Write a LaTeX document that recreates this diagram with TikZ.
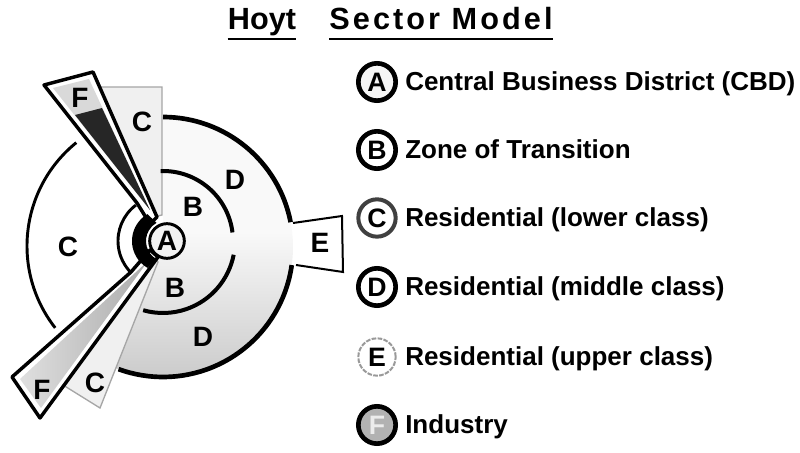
\documentclass[tikz,border=0pt]{standalone}
\usepackage{fontspec}
\setmainfont{Liberation Sans}
\begin{document}
\begin{tikzpicture}[x=0.75pt,y=0.75pt,
  zone/.style={font=\bfseries\fontsize{21}{21}\selectfont},
  key/.style={circle,draw,line width=3.5pt,minimum size=28pt,inner sep=0pt,fill=white,
    font=\bfseries\fontsize{20}{20}\selectfont},
  keytext/.style={anchor=base west,inner sep=0pt,font=\bfseries\fontsize{19.5}{22}\selectfont},
  title/.style={anchor=base,inner sep=0pt,font=\bfseries\fontsize{23}{26}\selectfont},
  wedge/.style={draw=gray!70,line width=1pt,fill=gray!12},
  mill/.style={draw,line width=2.6pt,line join=round,fill=white}]
\useasboundingbox (0,0) rectangle (800,453);

\coordinate (O) at (163,212);
\coordinate (Dc) at (163,206);
\coordinate (Cc) at (160,207);
\coordinate (O2) at (167,212);

\begin{scope}
\clip (Dc) -- ([shift={(90:130)}]Dc) arc[start angle=90,end angle=-112,radius=130] -- cycle;
\fill[gray!5] (100,220) rectangle (300,340);
\shade[top color=gray!5,bottom color=gray!42] (100,70) rectangle (300,220);
\end{scope}
\draw[line width=3.5pt] ([shift={(90:130)}]Dc) arc[start angle=90,end angle=11,radius=130];
\draw[line width=3.5pt] ([shift={(-8:130)}]Dc) arc[start angle=-8,end angle=-110,radius=130];

\draw[line width=1.5pt,fill=white] (293,230) -- (342,237) -- (343,181) -- (296,188);

\draw[line width=2.2pt] ([shift={(129:133)}]Cc) arc[start angle=129,end angle=218,radius=133];

\draw[wedge] (98,366) -- (162,366) -- (162,238) -- (153,236) -- cycle;
\draw[wedge] (63,68) -- (100,45) -- (158,191) -- (152,197) -- cycle;

\draw[mill] (44,368) -- (93,381) -- (157,236) -- (150,229) -- (137,250) -- cycle;
\fill[gray!30] (53,365) -- (89,374) -- (150,243) -- cycle;
\fill[black!85] (75,338) -- (102,345) -- (150,243) -- cycle;

\draw[mill] (12,76) -- (40,35) -- (158,196) -- (150,203) -- (131,181) -- cycle;
\shade[left color=gray!25,right color=gray!65] (20,74) -- (41,45) -- (148,192) -- cycle;

\draw[line width=2.2pt] ([shift={(127:45)}]O) arc[start angle=127,end angle=225,radius=45];
\draw[line width=3pt] ([shift={(92:70)}]O) arc[start angle=92,end angle=7,radius=70];
\draw[line width=3pt] ([shift={(-11:72)}]O) arc[start angle=-11,end angle=-106,radius=72];

\fill ([shift={(120:31)}]O) arc[start angle=120,end angle=240,radius=31]
  -- ([shift={(240:21)}]O2) arc[start angle=240,end angle=120,radius=21] -- cycle;

\node[circle,draw,line width=2.2pt,fill=gray!10,minimum size=26pt,inner sep=0pt,zone] (cbd) at (O2) {A};

\node[zone] (cw) at (68,206) {C};
\node[zone] (cn) at (142,331) {C};
\node[zone] (cs) at (95,70) {C};
\node[zone] (bn) at (193,246) {B};
\node[zone] (bs) at (175,165) {B};
\node[zone] (dn) at (235,273) {D};
\node[zone] (ds) at (203,116) {D};
\node[zone] (e) at (320,210) {E};
\node[zone] (fn) at (80,355) {F};
\node[zone] (fs) at (42,63) {F};

\node[key,fill=gray!8] (ka) at (377,371) {A};
\node[key] (kb) at (377,303) {B};
\node[key,draw=black!75,line width=3pt] (kc) at (377,235) {C};
\node[key] (kd) at (377,166) {D};
\node[key,draw=gray!80,densely dotted,line width=1.5pt] (ke) at (377,96) {E};
\node[key,fill=gray!60,text=gray!15] (kf) at (377,28) {F};

\node[keytext] (ta) at (405,362) {Central Business District (CBD)};
\node[keytext] (tb) at (405,294) {Zone of Transition};
\node[keytext] (tc) at (405,226) {Residential (lower class)};
\node[keytext] (td) at (405,157) {Residential (middle class)};
\node[keytext] (te) at (405,87) {Residential (upper class)};
\node[keytext] (tf) at (405,19) {Industry};

\node[title] (hoyt) at (262,423) {Hoyt};
\node[title] (sector) at (441,423) {\addfontfeatures{LetterSpace=10}Sector Model};
\draw[line width=1.5pt] ([yshift=-6.5pt]hoyt.base west) -- ([yshift=-6.5pt]hoyt.base east);
\draw[line width=1.5pt] ([yshift=-6.5pt]sector.base west) -- ([yshift=-6.5pt]sector.base east);
\end{tikzpicture}
\end{document}
